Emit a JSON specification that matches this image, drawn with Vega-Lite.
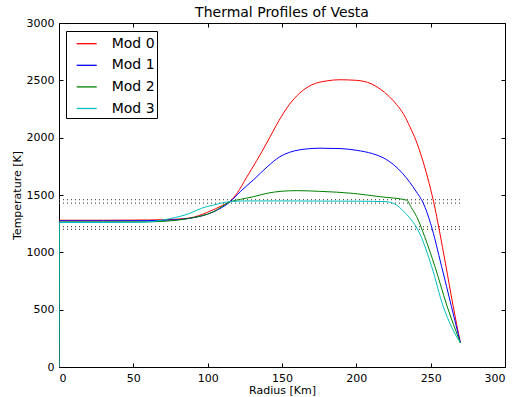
{
  "$schema": "https://vega.github.io/schema/vega-lite/v6.json",
  "width": 446,
  "height": 344,
  "autosize": {"type": "none"},
  "padding": {"left": 59, "top": 23, "right": 9, "bottom": 30},
  "background": "white",
  "title": {"text": "Thermal Profiles of Vesta", "font": "DejaVu Sans", "fontSize": 14, "fontWeight": "normal", "color": "black", "anchor": "middle", "baseline": "bottom", "offset": -17},
  "config": {
    "view": {"stroke": "black", "strokeWidth": 1},
    "font": "DejaVu Sans",
    "axis": {"grid": false, "domain": false, "tickColor": "black", "tickSize": -4, "labelColor": "black", "labelFontSize": 11, "labelFont": "DejaVu Sans", "titleFont": "DejaVu Sans", "titleFontSize": 11, "titleFontWeight": "normal", "titleColor": "black", "labelPadding": 9, "format": "d"}
  },
  "datasets": {
    "curves": [
      {"model": "Mod 0", "r": 0, "T": 0}, {"model": "Mod 0", "r": 0.2, "T": 1280}, {"model": "Mod 0", "r": 30, "T": 1280}, {"model": "Mod 0", "r": 60, "T": 1282}, {"model": "Mod 0", "r": 72, "T": 1285}, {"model": "Mod 0", "r": 88, "T": 1300}, {"model": "Mod 0", "r": 100, "T": 1350}, {"model": "Mod 0", "r": 110, "T": 1410}, {"model": "Mod 0", "r": 115, "T": 1445}, {"model": "Mod 0", "r": 120, "T": 1520}, {"model": "Mod 0", "r": 126, "T": 1650}, {"model": "Mod 0", "r": 133, "T": 1800}, {"model": "Mod 0", "r": 140, "T": 1960}, {"model": "Mod 0", "r": 148, "T": 2150}, {"model": "Mod 0", "r": 155, "T": 2290}, {"model": "Mod 0", "r": 162, "T": 2390}, {"model": "Mod 0", "r": 170, "T": 2460}, {"model": "Mod 0", "r": 180, "T": 2495}, {"model": "Mod 0", "r": 189, "T": 2505}, {"model": "Mod 0", "r": 200, "T": 2500}, {"model": "Mod 0", "r": 210, "T": 2470}, {"model": "Mod 0", "r": 216, "T": 2425}, {"model": "Mod 0", "r": 222, "T": 2360}, {"model": "Mod 0", "r": 227, "T": 2290}, {"model": "Mod 0", "r": 232, "T": 2200}, {"model": "Mod 0", "r": 236, "T": 2096}, {"model": "Mod 0", "r": 240, "T": 1980}, {"model": "Mod 0", "r": 244, "T": 1830}, {"model": "Mod 0", "r": 248, "T": 1650}, {"model": "Mod 0", "r": 252, "T": 1440}, {"model": "Mod 0", "r": 256, "T": 1180}, {"model": "Mod 0", "r": 260, "T": 900}, {"model": "Mod 0", "r": 265, "T": 540}, {"model": "Mod 0", "r": 270, "T": 210},
      {"model": "Mod 1", "r": 0, "T": 0}, {"model": "Mod 1", "r": 0.2, "T": 1275}, {"model": "Mod 1", "r": 30, "T": 1275}, {"model": "Mod 1", "r": 60, "T": 1276}, {"model": "Mod 1", "r": 72, "T": 1280}, {"model": "Mod 1", "r": 88, "T": 1297}, {"model": "Mod 1", "r": 104, "T": 1354}, {"model": "Mod 1", "r": 115, "T": 1440}, {"model": "Mod 1", "r": 122, "T": 1530}, {"model": "Mod 1", "r": 130.7, "T": 1631}, {"model": "Mod 1", "r": 140, "T": 1745}, {"model": "Mod 1", "r": 148.6, "T": 1834}, {"model": "Mod 1", "r": 155, "T": 1872}, {"model": "Mod 1", "r": 162, "T": 1894}, {"model": "Mod 1", "r": 175.6, "T": 1908}, {"model": "Mod 1", "r": 189, "T": 1905}, {"model": "Mod 1", "r": 200, "T": 1890}, {"model": "Mod 1", "r": 211, "T": 1860}, {"model": "Mod 1", "r": 218, "T": 1825}, {"model": "Mod 1", "r": 225, "T": 1765}, {"model": "Mod 1", "r": 231, "T": 1690}, {"model": "Mod 1", "r": 236, "T": 1610}, {"model": "Mod 1", "r": 240, "T": 1535}, {"model": "Mod 1", "r": 245, "T": 1430}, {"model": "Mod 1", "r": 250, "T": 1250}, {"model": "Mod 1", "r": 257.4, "T": 875}, {"model": "Mod 1", "r": 264, "T": 526}, {"model": "Mod 1", "r": 270, "T": 210},
      {"model": "Mod 2", "r": 0, "T": 0}, {"model": "Mod 2", "r": 0.2, "T": 1265}, {"model": "Mod 2", "r": 30, "T": 1265}, {"model": "Mod 2", "r": 60, "T": 1266}, {"model": "Mod 2", "r": 72, "T": 1272}, {"model": "Mod 2", "r": 88, "T": 1297}, {"model": "Mod 2", "r": 104, "T": 1354}, {"model": "Mod 2", "r": 115, "T": 1440}, {"model": "Mod 2", "r": 122, "T": 1462}, {"model": "Mod 2", "r": 130.7, "T": 1485}, {"model": "Mod 2", "r": 140, "T": 1515}, {"model": "Mod 2", "r": 150, "T": 1533}, {"model": "Mod 2", "r": 160, "T": 1538}, {"model": "Mod 2", "r": 175, "T": 1532}, {"model": "Mod 2", "r": 198, "T": 1514}, {"model": "Mod 2", "r": 216, "T": 1485}, {"model": "Mod 2", "r": 233.9, "T": 1455}, {"model": "Mod 2", "r": 237, "T": 1390}, {"model": "Mod 2", "r": 240.6, "T": 1311}, {"model": "Mod 2", "r": 246, "T": 1136}, {"model": "Mod 2", "r": 252.9, "T": 875}, {"model": "Mod 2", "r": 260.8, "T": 540}, {"model": "Mod 2", "r": 270, "T": 210},
      {"model": "Mod 3", "r": 0, "T": 0}, {"model": "Mod 3", "r": 0.2, "T": 1260}, {"model": "Mod 3", "r": 30, "T": 1260}, {"model": "Mod 3", "r": 55, "T": 1262}, {"model": "Mod 3", "r": 65, "T": 1272}, {"model": "Mod 3", "r": 75, "T": 1295}, {"model": "Mod 3", "r": 88, "T": 1340}, {"model": "Mod 3", "r": 96, "T": 1385}, {"model": "Mod 3", "r": 104, "T": 1413}, {"model": "Mod 3", "r": 115, "T": 1442}, {"model": "Mod 3", "r": 125, "T": 1448}, {"model": "Mod 3", "r": 150, "T": 1448}, {"model": "Mod 3", "r": 200, "T": 1446}, {"model": "Mod 3", "r": 220, "T": 1442}, {"model": "Mod 3", "r": 227, "T": 1413}, {"model": "Mod 3", "r": 231.6, "T": 1360}, {"model": "Mod 3", "r": 236, "T": 1300}, {"model": "Mod 3", "r": 242.8, "T": 1160}, {"model": "Mod 3", "r": 250.7, "T": 875}, {"model": "Mod 3", "r": 258.5, "T": 526}, {"model": "Mod 3", "r": 264, "T": 350}, {"model": "Mod 3", "r": 270, "T": 210}
    ],
    "levels": [
      {"T": 1460, "r0": 0, "r1": 270},
      {"T": 1430, "r0": 0, "r1": 270},
      {"T": 1225, "r0": 0, "r1": 270},
      {"T": 1200, "r0": 0, "r1": 270}
    ]
  },
  "layer": [
    {
      "data": {"name": "levels"},
      "mark": {"type": "rule", "strokeDash": [1, 3], "strokeWidth": 1.2, "color": "#555555"},
      "encoding": {
        "x": {"field": "r0", "type": "quantitative", "scale": {"domain": [0, 300], "nice": false}, "axis": {"orient": "top", "labels": false, "title": null, "values": [0, 50, 100, 150, 200, 250, 300]}},
        "x2": {"field": "r1"},
        "y": {"field": "T", "type": "quantitative", "scale": {"domain": [0, 3000], "nice": false}, "axis": {"orient": "right", "labels": false, "title": null, "values": [0, 500, 1000, 1500, 2000, 2500, 3000]}}
      }
    },
    {
      "data": {"name": "curves"},
      "mark": {"type": "line", "strokeWidth": 1, "interpolate": "monotone", "clip": true},
      "encoding": {
        "x": {"field": "r", "type": "quantitative", "scale": {"domain": [0, 300], "nice": false}, "axis": {"orient": "bottom", "title": "Radius [Km]", "values": [0, 50, 100, 150, 200, 250, 300], "titlePadding": 1}},
        "y": {"field": "T", "type": "quantitative", "scale": {"domain": [0, 3000], "nice": false}, "axis": {"orient": "left", "title": "Temperature [K]", "values": [0, 500, 1000, 1500, 2000, 2500, 3000], "titlePadding": 4}},
        "color": {"field": "model", "type": "nominal", "scale": {"domain": ["Mod 0", "Mod 1", "Mod 2", "Mod 3"], "range": ["#ff0000", "#0000ff", "#008000", "#00bfbf"]},
          "legend": {"title": null, "orient": "none", "legendX": 7, "legendY": 8, "symbolType": "M-1,0L1,0", "symbolSize": 400, "symbolStrokeWidth": 1.3, "symbolOffset": 8, "labelFontSize": 14, "labelFont": "DejaVu Sans", "labelColor": "black", "labelOffset": 14, "rowPadding": 3.6, "padding": 1.7, "strokeColor": "black", "fillColor": "white", "cornerRadius": 0}}
      }
    }
  ],
  "resolve": {"axis": {"x": "independent", "y": "independent"}}
}
